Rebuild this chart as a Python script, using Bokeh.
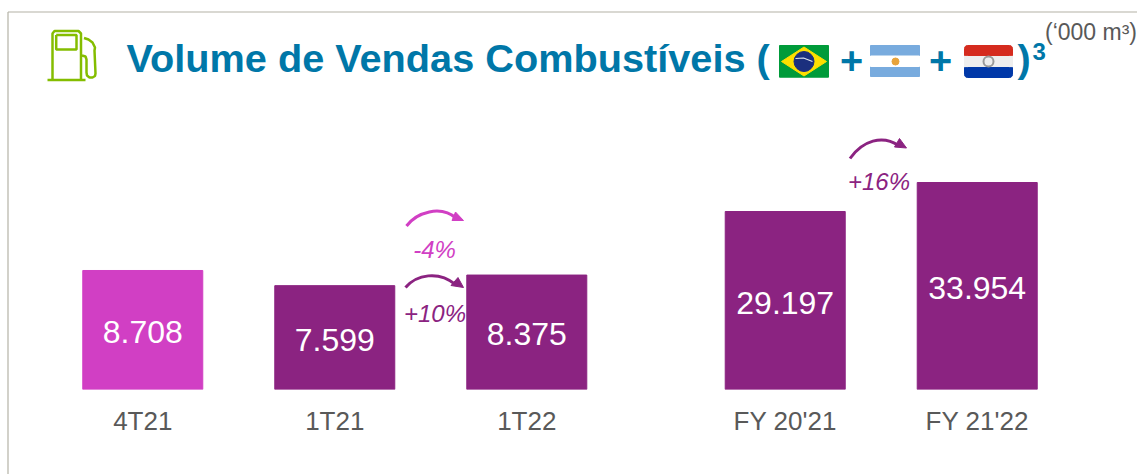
from bokeh.plotting import figure
from bokeh.models import FactorRange, Range1d, Label, ColumnDataSource
from bokeh.core.properties import value
from bokeh.embed import file_html
from bokeh.resources import INLINE
import math

# ---- data ----
quarter_periods = ["4T21", "1T21", "1T22"]
quarter_values = [8708, 7599, 8375]
quarter_labels = ["8.708", "7.599", "8.375"]
quarter_colors = ["#D13FC4", "#8B2381", "#8B2381"]
year_periods = ["FY 20'21", "FY 21'22"]
year_values = [29197, 33954]
year_labels = ["29.197", "33.954"]
year_colors = ["#8B2381", "#8B2381"]

TITLE = "Volume de Vendas Combustíveis ("
UNIT = "(‘000 m³)"
BLUE = "#0077A8"
PURPLE = "#8B2381"
PINK = "#D13FC4"
GREY = "#595959"
GREEN = "#84BD00"
FONT = "Liberation Sans"

x_factors = [("", c) for c in quarter_periods] + [(" ", c) for c in year_periods]
GROUP_PAD = 0.346
RANGE_PAD = 0.241
FRAME_W = 1119

p = figure(
    width=1137, height=474, output_backend="svg", toolbar_location=None,
    x_range=FactorRange(factors=x_factors, factor_padding=0, group_padding=GROUP_PAD,
                        range_padding=RANGE_PAD, range_padding_units="absolute"),
    y_range=Range1d(0, 28465), y_axis_location=None,
    min_border_left=0, min_border_right=18, min_border_top=0, min_border_bottom=85,
    background_fill_color="white", border_fill_color="white", outline_line_color=None,
)
p.extra_y_ranges = {"fy": Range1d(0, 63812), "px": Range1d(389, 0)}
p.grid.visible = False

ax = p.xaxis[0]
ax.axis_line_color = None
ax.major_tick_line_color = None
ax.minor_tick_line_color = None
ax.separator_line_color = None
ax.major_label_text_font = FONT
ax.major_label_text_font_size = "26px"
ax.major_label_text_color = GREY
ax.major_label_standoff = 10
ax.group_text_font_size = "1px"
ax.group_label_orientation = "horizontal"

# ---- bars ----
BAR_W = 0.625
qs = ColumnDataSource(dict(x=x_factors[:3], top=quarter_values, mid=[v / 2 for v in quarter_values],
                           label=quarter_labels, color=quarter_colors))
ys = ColumnDataSource(dict(x=x_factors[3:], top=year_values, mid=[v / 2 for v in year_values],
                           label=year_labels, color=year_colors))
p.vbar(x="x", top="top", width=BAR_W, color="color", source=qs)
p.vbar(x="x", top="top", width=BAR_W, color="color", source=ys, y_range_name="fy")
p.text(x="x", y="mid", text="label", source=qs, text_align="center", text_baseline="middle",
       text_color="white", text_font=value(FONT), text_font_size="32px", y_offset=2)
p.text(x="x", y="mid", text="label", source=ys, text_align="center", text_baseline="middle",
       text_color="white", text_font=value(FONT), text_font_size="32px", y_offset=2, y_range_name="fy")

# Decorations are placed in picture pixels; the categorical scale accepts its synthetic numbers.
UNITS = 5 + GROUP_PAD + 2 * RANGE_PAD
def sx(v):
    return v * UNITS / FRAME_W - RANGE_PAD
def X(vs):
    return [sx(v) for v in vs]
PX = dict(y_range_name="px")

# ---- frame lines ----
p.segment(X([7.5, 7.5]), [11.5, 11.5], X([7.5, 1137]), [474, 11.5], line_color="#B4B2A6", line_width=1.2,
          level="overlay", **PX)

# ---- pump icon ----
def rrect(x0, y0, x1, y1, r, n=6):
    xs, ys_ = [], []
    for cx, cy, a0 in [(x1 - r, y0 + r, -90), (x1 - r, y1 - r, 0), (x0 + r, y1 - r, 90), (x0 + r, y0 + r, 180)]:
        for i in range(n + 1):
            a = math.radians(a0 + 90 * i / n)
            xs.append(cx + r * math.cos(a))
            ys_.append(cy + r * math.sin(a))
    return xs, ys_

body_x = [52, 52, 54, 78, 80.5, 80.5]
body_y = [79, 33, 30.5, 30.5, 33, 79]
p.line(X(body_x), body_y, line_color=GREEN, line_width=2.5, **PX)
p.line(X([47, 85]), [79.5, 79.5], line_color=GREEN, line_width=2.5, **PX)
p.line(X([55.7, 76, 76, 55.7, 55.7]), [34.5, 34.5, 49, 49, 34.5], line_color=GREEN, line_width=2.5, **PX)
p.line(X([83.5, 88, 92, 94.5, 94, 95, 94.5, 92, 89, 86.5, 86, 86, 85, 81.5]),
       [37.5, 39, 42, 47, 50, 73, 75.5, 77, 77, 75, 72, 59, 56, 55],
       line_color=GREEN, line_width=2.5, **PX)

# ---- title ----
def label(x, y, text, size, color, bold=False, italic=False, align="left"):
    style = "bold" if bold else ("italic" if italic else "normal")
    p.add_layout(Label(x=sx(x), y=y, text=text, text_font=FONT, text_font_size=size, text_color=color,
                       text_font_style=style, text_align=align, text_baseline="middle", level="overlay", **PX))

label(126, 57, TITLE, "39.7px", BLUE, bold=True)
label(851, 60, "+", "39.7px", BLUE, bold=True, align="center")
label(940, 60, "+", "39.7px", BLUE, bold=True, align="center")
label(1017, 57, ")", "39.7px", BLUE, bold=True)
label(1032, 51, "3", "24px", BLUE, bold=True)
p.text(X([1044.5]), [31], text=[UNIT], text_font=value(FONT), text_font_size="23px", text_color=GREY,
       text_baseline="alphabetic", level="overlay", **PX)

# ---- flags ----
p.quad(left=X([779]), right=X([828]), top=[45], bottom=[76.7], color="#009B3A", **PX)
p.patch(X([781, 803.5, 826, 803.5]), [61, 46.5, 61, 75.5], color="#FEDF00", **PX)
p.scatter(X([803.5]), [61], size=20, color="#1B2F7E", **PX)
p.line(X([795, 803, 812]), [58, 57.5, 61], line_color="#DDE3EE", line_width=1.2, **PX)

p.quad(left=X([870]), right=X([919]), top=[45], bottom=[76], color="#78ABDE", **PX)
p.quad(left=X([870]), right=X([919]), top=[55.5], bottom=[66], color="#FFFFFF", **PX)
p.scatter(X([895]), [61], size=7, color="#E8A33A", **PX)

px, py = rrect(964, 45, 1012, 77, 3)
p.patch(X(px), py, color="#EEEEEE", **PX)
rx, ry = rrect(964, 45, 1012, 60, 3)
p.patch(X(rx), [min(y, 55) for y in ry], color="#D52B1E", **PX)
bx, by = rrect(964, 60, 1012, 77, 3)
p.patch(X(bx), [max(y, 67) for y in by], color="#0038A8", **PX)
p.scatter(X([988]), [61], size=10, fill_color="#EEEEEE", line_color="#9A9A9A", line_width=2, **PX)

# ---- growth arrows ----
def arrow(x0, y0, cx0, cy0, cx1, cy1, x1, y1, head, color, width):
    p.bezier(x0=X([x0]), y0=[y0], x1=X([x1]), y1=[y1], cx0=X([cx0]), cy0=[cy0], cx1=X([cx1]), cy1=[cy1],
             line_color=color, line_width=width, **PX)
    p.patch(X([h[0] for h in head]), [h[1] for h in head], color=color, **PX)

arrow(406, 225.5, 416, 212, 440, 204, 456, 218,
      [(455, 211.5), (463, 220), (451.5, 220)], PINK, 3)
arrow(405, 287, 416, 274, 438, 270, 455, 284,
      [(457.5, 277), (463, 287), (450.5, 285)], PURPLE, 3)
arrow(849.5, 158, 862, 140, 882, 134, 898, 145,
      [(899, 138), (906, 147.5), (894, 146.5)], PURPLE, 3)

label(434, 249, "-4%", "24px", PINK, italic=True, align="center")
label(434.5, 313, "+10%", "24px", PURPLE, italic=True, align="center")
label(878.5, 181, "+16%", "24px", PURPLE, italic=True, align="center")

open("out.html", "w").write(file_html(p, INLINE))
